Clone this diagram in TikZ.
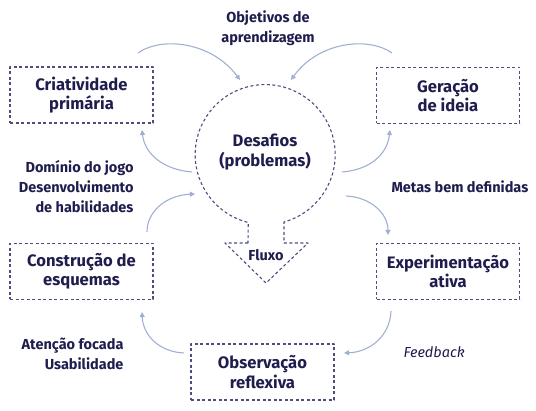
\documentclass[tikz,border=0pt]{standalone}
\usepackage{fontspec}
\setmainfont{Fira Sans}
\usepackage{tikz}
\usetikzlibrary{arrows.meta}
\definecolor{navytext}{RGB}{30,29,78}
\definecolor{dashblue}{RGB}{75,79,128}
\definecolor{arrowblue}{RGB}{160,176,210}

\begin{document}
\begin{tikzpicture}[x=1pt,y=-1pt,line join=round,>={Triangle[length=5pt,width=5pt]},
  stagebox/.style={draw=dashblue,dash pattern=on 3pt off 2.5pt,line width=1.1pt,minimum width=143pt,minimum height=56pt,align=center,text=navytext,font=\bfseries\fontsize{16.6}{19.5}\selectfont},
  cue/.style={text=navytext,font=\bfseries\fontsize{14.5}{20}\selectfont},
  flow/.style={->,draw=arrowblue,line width=1.1pt}]
\useasboundingbox (0,0) rectangle (536,411);
% stages of the cycle
\node[stagebox] (crea) at (81.5,95) {Criatividade\\primária};
\node[stagebox] (idea) at (448,95.5) {Geração\\de ideia};
\node[stagebox] (schema) at (81.5,271.5) {Construção de\\esquemas};
\node[stagebox] (exper) at (448,271.5) {Experimentação\\ativa};
\node[stagebox] (obs) at (262.5,372) {Observação\\reflexiva};
% challenge bubble with flow arrow
\draw[draw=dashblue,dash pattern=on 3pt off 2.5pt,line width=1.1pt] (248,243) -- (225,243) -- (266,283) -- (308,243) -- (284,243) -- (284,222) arc[start angle=74.4,end angle=-256,radius=70] -- cycle;
\node[align=center,text=navytext,font=\bfseries\fontsize{16.6}{19.5}\selectfont] (chal) at (265,152) {Desafios\\(problemas)};
\node[cue] (fluxo) at (266,255) {Fluxo};
% labels
\node[cue,align=center] (goals) at (268,28.5) {Objetivos de\\aprendizagem};
\node[cue,align=right,anchor=east] (mastery) at (137,187) {Domínio do jogo\\Desenvolvimento\\de habilidades};
\node[cue,anchor=west] (metas) at (388,187) {Metas bem definidas};
\node[cue,align=right,anchor=east] (focus) at (127,354) {Atenção focada\\Usabilidade};
\node[cue,anchor=west,font=\mdseries\itshape\fontsize{14.5}{20}\selectfont] (fb) at (400,352) {Feedback};
% free ends of the arrows
\coordinate (a1) at (138,53);  \coordinate (b1) at (240,80);
\coordinate (a2) at (392,53);  \coordinate (b2) at (291,80);
\coordinate (a3) at (192,172); \coordinate (b3) at (142,130);
\coordinate (a4) at (342,172); \coordinate (b4) at (390,130);
\coordinate (a5) at (147,232); \coordinate (b5) at (195,194);
\coordinate (a6) at (346,196); \coordinate (b6) at (388,235);
\coordinate (a7) at (391,311); \coordinate (b7) at (344,353);
\coordinate (a8) at (184,353); \coordinate (b8) at (142,312);
\draw[flow] (a1) .. controls (162,36) and (212,42) .. (b1);
\draw[flow] (a2) .. controls (368,36) and (318,42) .. (b2);
\draw[flow] (a3) .. controls (166,170) and (145,156) .. (b3);
\draw[flow] (a4) .. controls (368,170) and (387,156) .. (b4);
\draw[flow] (a5) .. controls (147,210) and (168,195) .. (b5);
\draw[flow] (a6) .. controls (370,197) and (388,213) .. (b6);
\draw[flow] (a7) .. controls (390,336) and (370,352) .. (b7);
\draw[flow] (a8) .. controls (160,352) and (143,336) .. (b8);
\end{tikzpicture}
\end{document}
